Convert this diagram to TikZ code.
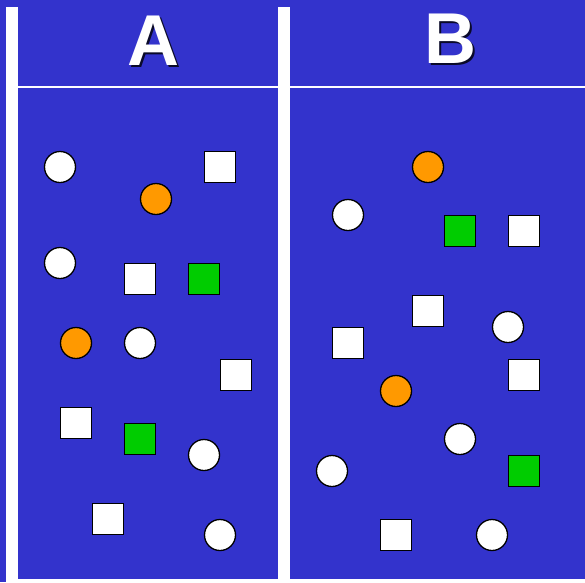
\documentclass[tikz,border=0pt]{standalone}
\usepackage{fontspec}
\setmainfont{Liberation Sans}
\definecolor{bg}{HTML}{3333CC}
\definecolor{org}{HTML}{FF9900}
\definecolor{grn}{HTML}{00CC00}
\colorlet{shadowc}{black!80!bg}
\newcommand{\shadowed}[1]{\rlap{\hspace{2pt}\raisebox{-2pt}{\textcolor{shadowc}{#1}}}#1}
\begin{document}
\begin{tikzpicture}[x=1pt,y=-1pt,
  wc/.style={circle,draw=black,line width=1.3pt,fill=white,minimum size=31pt,inner sep=0pt},
  oc/.style={wc,fill=org},
  ws/.style={rectangle,draw=black,line width=1.3pt,fill=white,minimum size=31pt,inner sep=0pt},
  gs/.style={ws,fill=grn},
  hdr/.style={font=\bfseries\fontsize{72}{72}\selectfont,text=white,inner sep=0pt}]
\useasboundingbox (0,0) rectangle (585,582);
\fill[bg] (0,0) rectangle (585,582);
% white frame bars
\fill[white] (6,7) rectangle (18,582);
\fill[white] (278,7) rectangle (290,582);
\fill[white] (18,579) rectangle (278,582);
\fill[white] (290,579) rectangle (585,582);
\draw[white,line width=1.6pt] (18,87) -- (585,87);
% headers
\node[hdr] (hA) at (153,42) {\shadowed{A}};
\node[hdr] (hB) at (450,40) {\shadowed{B}};
% panel A
\node[wc] (a1) at (60,167) {};
\node[ws] (a2) at (220,167) {};
\node[oc] (a3) at (156,199) {};
\node[wc] (a4) at (60,263) {};
\node[ws] (a5) at (140,279) {};
\node[gs] (a6) at (204,279) {};
\node[oc] (a7) at (76,343) {};
\node[wc] (a8) at (140,343) {};
\node[ws] (a9) at (236,375) {};
\node[ws] (a10) at (76,423) {};
\node[gs] (a11) at (140,439) {};
\node[wc] (a12) at (204,455) {};
\node[ws] (a13) at (108,519) {};
\node[wc] (a14) at (220,535) {};
% panel B
\node[oc] (b1) at (428,167) {};
\node[wc] (b2) at (348,215) {};
\node[gs] (b3) at (460,231) {};
\node[ws] (b4) at (524,231) {};
\node[ws] (b5) at (428,311) {};
\node[wc] (b6) at (508,327) {};
\node[ws] (b7) at (348,343) {};
\node[oc] (b8) at (396,391) {};
\node[ws] (b9) at (524,375) {};
\node[wc] (b10) at (460,439) {};
\node[wc] (b11) at (332,471) {};
\node[gs] (b12) at (524,471) {};
\node[ws] (b13) at (396,535) {};
\node[wc] (b14) at (492,535) {};
\end{tikzpicture}
\end{document}
